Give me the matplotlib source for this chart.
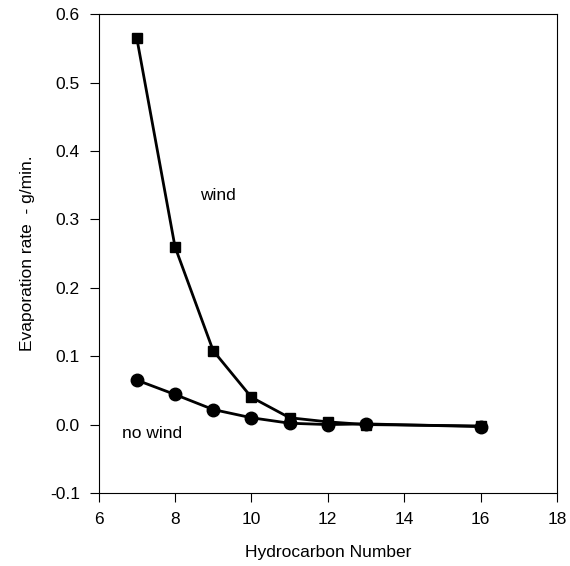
import matplotlib
matplotlib.use("Agg")
import matplotlib.pyplot as plt

# carbon number of the hydrocarbon
carbon_no = [7, 8, 9, 10, 11, 12, 13, 16]

# evaporation rate (g/min)
rate_wind = [0.565, 0.260, 0.108, 0.040, 0.010, 0.004, 0.000, -0.002]
rate_no_wind = [0.065, 0.044, 0.022, 0.010, 0.002, 0.000, 0.001, -0.003]

x_ticks = [6, 8, 10, 12, 14, 16, 18]
y_ticks = [-0.1, 0.0, 0.1, 0.2, 0.3, 0.4, 0.5, 0.6]

plt.rcParams["font.family"] = ["Liberation Sans", "DejaVu Sans"]

fig = plt.figure(figsize=(5.7, 5.66), dpi=100)
ax = fig.add_axes([0.173, 0.129, 0.804, 0.846])

ax.plot(carbon_no, rate_wind, color="black", lw=2, marker="s", ms=7)
ax.plot(carbon_no, rate_no_wind, color="black", lw=2, marker="o", ms=9)

ax.text(8.65, 0.335, "wind", fontsize=12.5, va="center")
ax.text(6.6, -0.013, "no wind", fontsize=12.5, va="center")

ax.set_xlim(6, 18)
ax.set_ylim(-0.1, 0.6)
ax.set_xticks(x_ticks)
ax.set_yticks(y_ticks)
ax.set_yticklabels([f"{v:.1f}" for v in y_ticks])
ax.tick_params(direction="out", length=6.5, pad=7, labelsize=12.5, width=0.8)
for s in ax.spines.values():
    s.set_linewidth(0.8)

ax.set_xlabel("Hydrocarbon Number", fontsize=12.5, labelpad=13)
ax.set_ylabel("Evaporation rate  - g/min.", fontsize=12.5, labelpad=11)

fig.savefig("out.png", dpi=100)
